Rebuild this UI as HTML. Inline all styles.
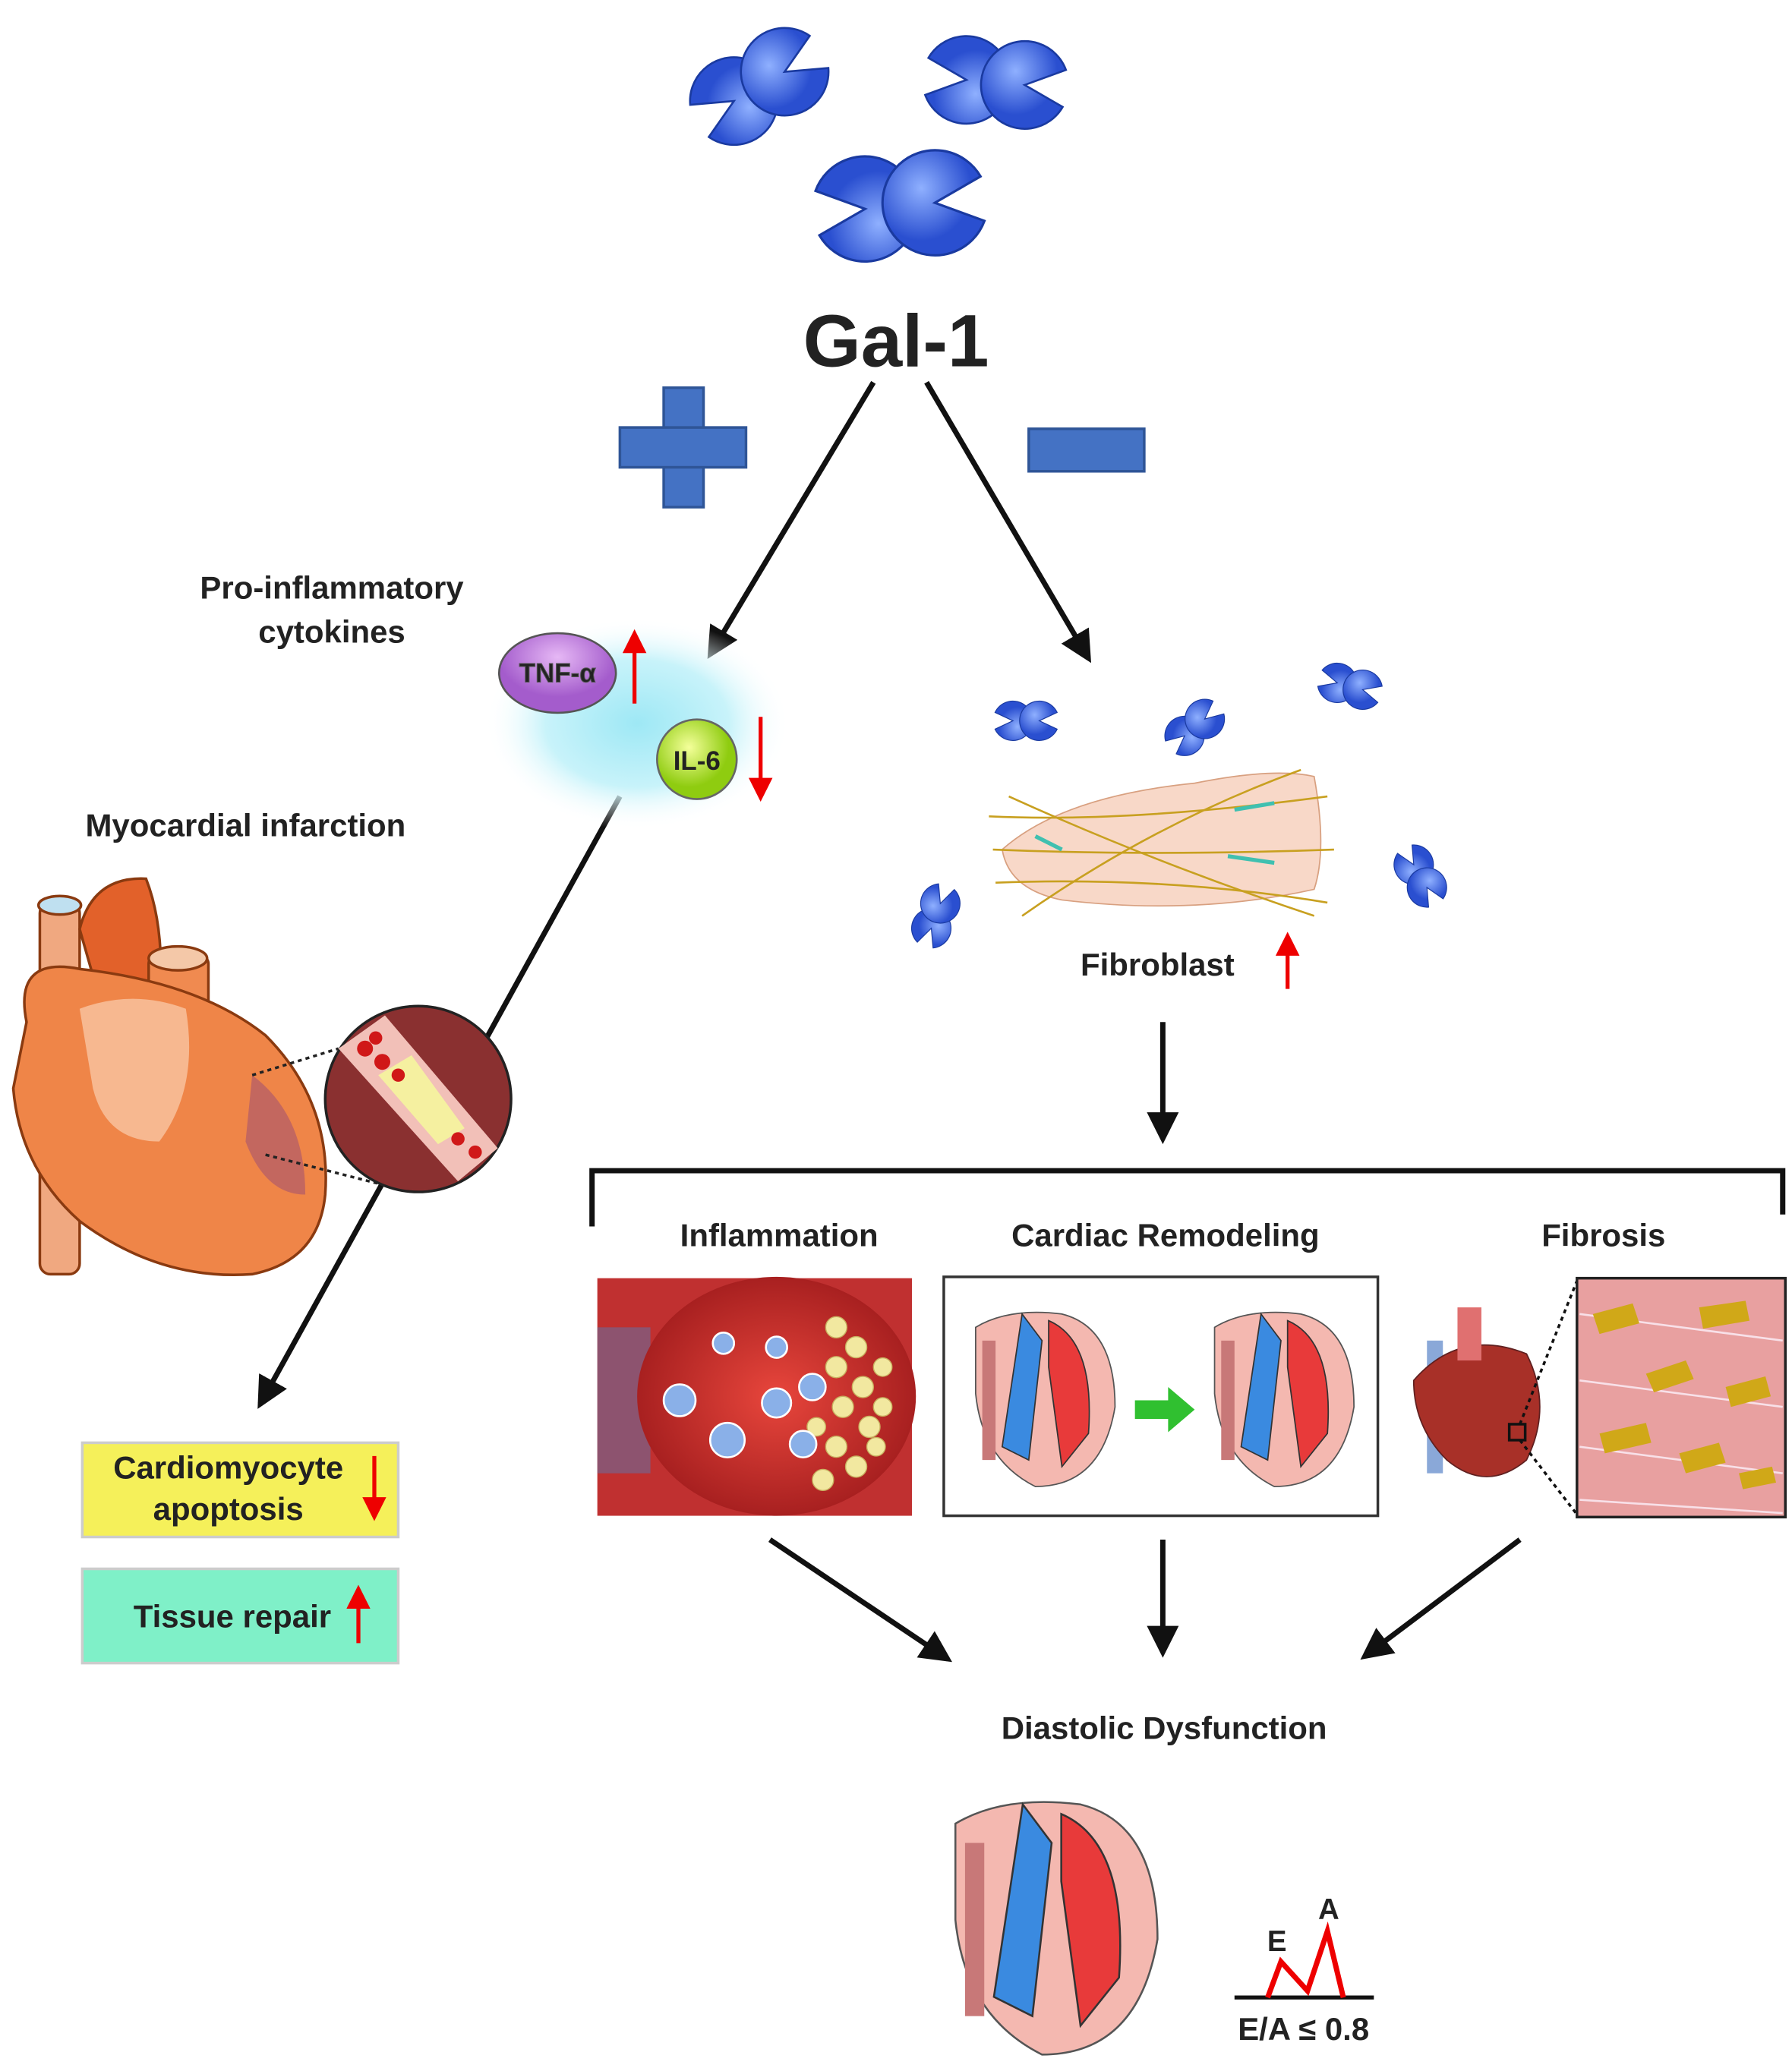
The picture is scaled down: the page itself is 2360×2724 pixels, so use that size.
<!DOCTYPE html>
<html><head><meta charset="utf-8">
<style>
html,body{margin:0;padding:0;background:#fff;}
svg{display:block;}
text{font-family:"Liberation Sans",sans-serif;font-weight:bold;fill:#222;}
</style></head>
<body>
<svg width="2360" height="2724" viewBox="0 0 1350 1558" xmlns="http://www.w3.org/2000/svg">
<defs>
<marker id="ah" markerWidth="6" markerHeight="6" refX="5" refY="3" orient="auto" markerUnits="strokeWidth">
<path d="M0,0 L6,3 L0,6 z" fill="#111"/></marker>
<marker id="rh" markerWidth="6" markerHeight="6" refX="4" refY="3" orient="auto" markerUnits="strokeWidth">
<path d="M0,0 L6,3 L0,6 z" fill="#e00"/></marker>
<radialGradient id="glow"><stop offset="0" stop-color="#9ee8f5"/><stop offset="0.6" stop-color="#c8f3fa"/><stop offset="1" stop-color="#fff" stop-opacity="0"/></radialGradient>
<radialGradient id="pac" cx="0.4" cy="0.35"><stop offset="0" stop-color="#8fb0ff"/><stop offset="1" stop-color="#2a4fd0"/></radialGradient>
<radialGradient id="ilg" cx="0.4" cy="0.35"><stop offset="0" stop-color="#f4ff9a"/><stop offset="1" stop-color="#8fcc10"/></radialGradient>
<radialGradient id="tnf" cx="0.5" cy="0.3"><stop offset="0" stop-color="#e6b8f5"/><stop offset="1" stop-color="#a45ccc"/></radialGradient>
<radialGradient id="infl" cx="0.5" cy="0.5"><stop offset="0" stop-color="#e8463c"/><stop offset="1" stop-color="#a82020"/></radialGradient>
<g id="pm"><path d="M0,0 L30,-14 A33,33 0 1,0 30,14 Z" fill="url(#pac)" stroke="#1a3aa0" stroke-width="1.5"/></g>
<g id="pair"><use href="#pm" transform="translate(-22,0) rotate(180)"/><use href="#pm" transform="translate(22,0)"/></g>
</defs>

<use href="#pair" transform="translate(572,65) rotate(-30)"/>
<use href="#pair" transform="translate(750,62) rotate(5)"/>
<use href="#pair" transform="translate(678,155) rotate(-5) scale(1.2)"/>

<text x="675" y="276" font-size="56" text-anchor="middle" fill="#333">Gal-1</text>

<g fill="#4472c4" stroke="#2f5597" stroke-width="2">
<rect x="500" y="292" width="30" height="90"/><rect x="467" y="322" width="95" height="30"/>
<rect x="775" y="323" width="87" height="32"/></g>

<g stroke="#111" stroke-width="4" fill="none" marker-end="url(#ah)">
<line x1="658" y1="288" x2="535" y2="493"/>
<line x1="698" y1="288" x2="820" y2="496"/>
<line x1="467" y1="600" x2="350" y2="812"/>
<line x1="300" y1="870" x2="196" y2="1058"/>
<line x1="876" y1="770" x2="876" y2="858"/>
<line x1="580" y1="1160" x2="714" y2="1250"/>
<line x1="876" y1="1160" x2="876" y2="1245"/>
<line x1="1145" y1="1160" x2="1028" y2="1248"/>
</g>

<text x="250" y="451" font-size="24" text-anchor="middle">Pro-inflammatory</text>
<text x="250" y="484" font-size="24" text-anchor="middle">cytokines</text>

<ellipse cx="480" cy="545" rx="115" ry="80" fill="url(#glow)"/>
<ellipse cx="420" cy="507" rx="44" ry="30" fill="url(#tnf)" stroke="#555" stroke-width="1.5"/>
<text x="420" y="514" font-size="20" text-anchor="middle" fill="#fff" stroke="#555" stroke-width="0.6">TNF-α</text>
<line x1="478" y1="530" x2="478" y2="480" stroke="#e00" stroke-width="3" marker-end="url(#rh)"/>
<circle cx="525" cy="572" r="30" fill="url(#ilg)" stroke="#666" stroke-width="1.5"/>
<text x="525" y="580" font-size="20" text-anchor="middle">IL-6</text>
<line x1="573" y1="540" x2="573" y2="598" stroke="#e00" stroke-width="3" marker-end="url(#rh)"/>

<text x="185" y="630" font-size="24" text-anchor="middle">Myocardial infarction</text>

<g stroke="#8a3a10" stroke-width="2">
<rect x="30" y="680" width="30" height="280" rx="8" fill="#f0a880"/>
<ellipse cx="45" cy="682" rx="16" ry="7" fill="#bfe0f0"/>
<path d="M60,700 Q70,660 110,662 Q125,700 120,760 L80,770 Z" fill="#e2612a"/>
<rect x="112" y="720" width="45" height="70" rx="6" fill="#f08a50"/>
<ellipse cx="134" cy="722" rx="22" ry="9" fill="#f4c8a8"/>
<path d="M20,770 Q10,720 60,730 Q150,740 200,780 Q250,830 245,900 Q240,950 190,960 Q120,965 60,920 Q15,880 10,820 Z" fill="#ef8548"/>
<path d="M60,760 Q100,745 140,760 Q150,820 120,860 Q80,860 70,820 Z" fill="#f7b890" stroke="none"/>
<path d="M190,810 Q230,840 230,900 Q200,900 185,860 Z" fill="#b05a6a" stroke="none" opacity="0.7"/>
</g>
<g stroke="#222" stroke-width="2" stroke-dasharray="3,3"><line x1="190" y1="810" x2="255" y2="790"/><line x1="200" y1="870" x2="290" y2="893"/></g>
<circle cx="315" cy="828" r="70" fill="#8a3030" stroke="#222" stroke-width="2"/>
<path d="M255,790 L290,765 L375,865 L345,890 Z" fill="#f2c0b8"/>
<path d="M285,810 L310,795 L350,850 L330,862 Z" fill="#f5f0a0"/>
<g fill="#d01818"><circle cx="275" cy="790" r="6"/><circle cx="288" cy="800" r="6"/><circle cx="300" cy="810" r="5"/><circle cx="345" cy="858" r="5"/><circle cx="358" cy="868" r="5"/><circle cx="283" cy="782" r="5"/></g>

<rect x="62" y="1087" width="238" height="71" fill="#f5f05a" stroke="#ccc" stroke-width="2"/>
<text x="172" y="1114" font-size="24" text-anchor="middle">Cardiomyocyte</text>
<text x="172" y="1145" font-size="24" text-anchor="middle">apoptosis</text>
<line x1="282" y1="1097" x2="282" y2="1140" stroke="#e00" stroke-width="3" marker-end="url(#rh)"/>
<rect x="62" y="1182" width="238" height="71" fill="#7ff0c8" stroke="#ccc" stroke-width="2"/>
<text x="175" y="1226" font-size="24" text-anchor="middle">Tissue repair</text>
<line x1="270" y1="1238" x2="270" y2="1200" stroke="#e00" stroke-width="3" marker-end="url(#rh)"/>

<use href="#pair" transform="translate(773,543) scale(0.45)"/>
<use href="#pair" transform="translate(900,548) rotate(-40) scale(0.45)"/>
<use href="#pair" transform="translate(1017,517) rotate(15) scale(0.45)"/>
<use href="#pair" transform="translate(1070,660) rotate(60) scale(0.45)"/>
<use href="#pair" transform="translate(705,690) rotate(-70) scale(0.45)"/>
<path d="M755,640 Q800,600 900,590 Q960,578 990,585 Q1000,640 990,670 Q900,690 800,678 Q760,670 755,640 Z" fill="#f8d8c8" stroke="#d8a080"/>
<g stroke="#c8a020" stroke-width="1.5" fill="none">
<path d="M745,615 Q850,620 1000,600"/><path d="M748,640 Q870,645 1005,640"/><path d="M750,665 Q880,660 1000,680"/><path d="M760,600 Q870,650 990,690"/><path d="M770,690 Q870,620 980,580"/></g>
<g stroke="#40c0b0" stroke-width="3"><line x1="930" y1="610" x2="960" y2="605"/><line x1="925" y1="645" x2="960" y2="650"/><line x1="780" y1="630" x2="800" y2="640"/></g>
<text x="872" y="735" font-size="24" text-anchor="middle">Fibroblast</text>
<line x1="970" y1="745" x2="970" y2="708" stroke="#e00" stroke-width="3" marker-end="url(#rh)"/>

<path d="M446,924 L446,882 L1343,882 L1343,915" stroke="#111" stroke-width="4" fill="none"/>
<text x="587" y="939" font-size="24" text-anchor="middle">Inflammation</text>
<text x="878" y="939" font-size="24" text-anchor="middle">Cardiac Remodeling</text>
<text x="1208" y="939" font-size="24" text-anchor="middle">Fibrosis</text>

<rect x="450" y="963" width="237" height="179" fill="#c03030"/>
<rect x="450" y="1000" width="40" height="110" fill="#6a6a9a" opacity="0.6"/>
<ellipse cx="585" cy="1052" rx="105" ry="90" fill="url(#infl)"/>
<g fill="#f2e8a0" stroke="#c8b060" stroke-width="0.8">
<circle cx="630" cy="1000" r="8"/><circle cx="645" cy="1015" r="8"/><circle cx="630" cy="1030" r="8"/><circle cx="650" cy="1045" r="8"/><circle cx="635" cy="1060" r="8"/><circle cx="655" cy="1075" r="8"/><circle cx="630" cy="1090" r="8"/><circle cx="645" cy="1105" r="8"/><circle cx="620" cy="1115" r="8"/><circle cx="665" cy="1030" r="7"/><circle cx="665" cy="1060" r="7"/><circle cx="615" cy="1075" r="7"/><circle cx="660" cy="1090" r="7"/><circle cx="615" cy="1045" r="7"/></g>
<g fill="#8ab0e8" stroke="#fff" stroke-width="1.5">
<circle cx="512" cy="1055" r="12"/><circle cx="548" cy="1085" r="13"/><circle cx="585" cy="1057" r="11"/><circle cx="612" cy="1045" r="10"/><circle cx="545" cy="1012" r="8"/><circle cx="585" cy="1015" r="8"/><circle cx="605" cy="1088" r="10"/></g>

<rect x="711" y="962" width="327" height="180" fill="#fff" stroke="#333" stroke-width="2"/>
<g id="sh">
<path d="M735,1000 Q760,985 800,990 Q840,1000 840,1060 Q830,1120 780,1120 Q740,1100 735,1050 Z" fill="#f4b8b0" stroke="#555"/>
<path d="M770,990 L785,1010 L775,1100 L755,1090 Z" fill="#3a8ae0" stroke="#333"/>
<path d="M790,995 Q825,1010 820,1080 L800,1105 L790,1030 Z" fill="#e83a3a" stroke="#333"/>
<path d="M745,1010 L745,1100" stroke="#c87878" stroke-width="10"/>
</g>
<use href="#sh" transform="translate(180,0)"/>
<path d="M855,1055 L880,1055 L880,1045 L900,1062 L880,1079 L880,1069 L855,1069 Z" fill="#30c030"/>

<rect x="1075" y="1010" width="12" height="100" fill="#8aa8d8"/>
<path d="M1065,1040 Q1100,1000 1150,1020 Q1170,1060 1150,1100 Q1120,1125 1090,1100 Q1065,1075 1065,1040 Z" fill="#a83028" stroke="#602020"/>
<rect x="1098" y="985" width="18" height="40" fill="#e07070"/>
<rect x="1137" y="1073" width="12" height="12" fill="none" stroke="#111" stroke-width="2"/>
<g stroke="#111" stroke-width="2" stroke-dasharray="3,3"><line x1="1145" y1="1073" x2="1188" y2="965"/><line x1="1145" y1="1085" x2="1188" y2="1141"/></g>
<rect x="1188" y="963" width="157" height="180" fill="#e8a0a0" stroke="#222" stroke-width="2"/>
<g stroke="#f8e0e8" stroke-width="1.5"><line x1="1190" y1="990" x2="1343" y2="1010"/><line x1="1190" y1="1040" x2="1343" y2="1060"/><line x1="1190" y1="1090" x2="1343" y2="1110"/><line x1="1190" y1="1130" x2="1343" y2="1140"/></g>
<g fill="#d0a818"><path d="M1200,990 l30,-8 l5,15 l-30,8 z"/><path d="M1280,985 l35,-5 l3,15 l-35,6 z"/><path d="M1240,1035 l30,-10 l6,14 l-30,10 z"/><path d="M1300,1045 l30,-8 l4,15 l-30,8 z"/><path d="M1205,1080 l35,-8 l4,15 l-35,8 z"/><path d="M1265,1095 l30,-8 l5,15 l-30,8 z"/><path d="M1310,1110 l25,-5 l3,12 l-25,5z"/></g>

<text x="877" y="1310" font-size="24" text-anchor="middle">Diastolic Dysfunction</text>

<g transform="translate(-346,-76) scale(1.45)">
<use href="#sh"/>
</g>

<line x1="930" y1="1505" x2="1035" y2="1505" stroke="#111" stroke-width="3"/>
<path d="M955,1505 L965,1478 L985,1500 L1000,1455 L1012,1505" stroke="#e00" stroke-width="4" fill="none"/>
<text x="962" y="1470" font-size="22" text-anchor="middle">E</text>
<text x="1001" y="1446" font-size="22" text-anchor="middle">A</text>
<text x="982" y="1537" font-size="24" text-anchor="middle">E/A ≤ 0.8</text>
</svg>
</body></html>
